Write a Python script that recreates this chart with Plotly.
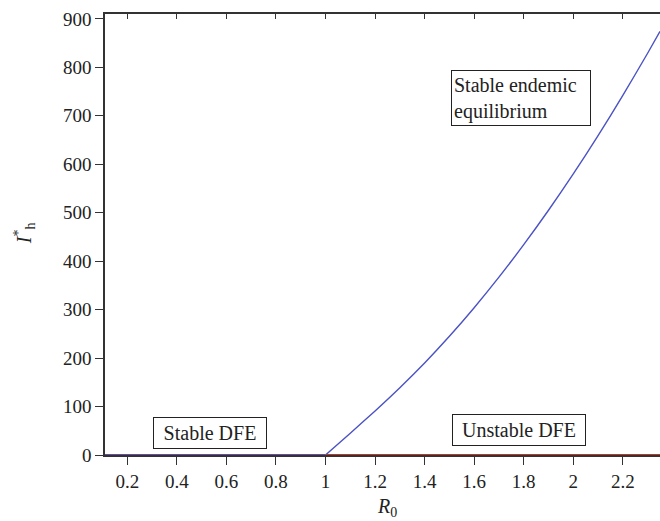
import plotly.graph_objects as go

# Data
r0_dfe = [0.11, 1.0]
i_dfe = [0, 0]
r0_unstable = [1.0, 2.35]
i_unstable = [0, 0]
r0_endemic = [1.0, 1.1, 1.2, 1.3, 1.4, 1.5, 1.6, 1.7, 1.8, 1.9, 2.0, 2.1, 2.2, 2.3, 2.35]
i_endemic = [0, 45, 91, 139, 190, 245, 304, 367, 434, 505, 580, 659, 742, 829, 874]

x_ticks = [0.2, 0.4, 0.6, 0.8, 1.0, 1.2, 1.4, 1.6, 1.8, 2.0, 2.2]
x_tick_labels = ["0.2", "0.4", "0.6", "0.8", "1", "1.2", "1.4", "1.6", "1.8", "2", "2.2"]
y_ticks = [0, 100, 200, 300, 400, 500, 600, 700, 800, 900]

FONT = "Liberation Serif, DejaVu Serif, serif"
AX = "#333333"

fig = go.Figure()
fig.add_trace(go.Scatter(x=r0_endemic, y=i_endemic, mode="lines",
                         line=dict(color="#4a52c4", width=1.4, shape="spline", smoothing=0.6),
                         showlegend=False))
fig.add_trace(go.Scatter(x=r0_unstable, y=i_unstable, mode="lines",
                         line=dict(color="#b8382c", width=2.2), showlegend=False))
fig.add_trace(go.Scatter(x=r0_dfe, y=i_dfe, mode="lines",
                         line=dict(color="#6a4c9c", width=2.2), showlegend=False))

xr = [0.11, 2.35]
fig.update_layout(
    width=660, height=521,
    margin=dict(l=105, r=0, t=14, b=66),
    paper_bgcolor="white", plot_bgcolor="white",
    font=dict(family=FONT, size=19, color="#222222"),
    xaxis=dict(range=xr, tickvals=x_ticks, ticktext=x_tick_labels,
               ticks="outside", ticklen=8, tickwidth=1.3, tickcolor=AX,
               showline=True, linecolor=AX, linewidth=1.5,
               showgrid=False, zeroline=False, tickfont=dict(size=19)),
    xaxis2=dict(range=xr, tickvals=x_ticks, showticklabels=False,
                overlaying="x", side="top", anchor="y",
                ticks="inside", ticklen=5, tickwidth=1.3, tickcolor=AX,
                showline=True, linecolor=AX, linewidth=1.5,
                showgrid=False, zeroline=False),
    yaxis=dict(range=[0, 910], tickvals=y_ticks,
               ticks="outside", ticklen=8, tickwidth=1.3, tickcolor=AX,
               showline=True, linecolor=AX, linewidth=1.5,
               showgrid=False, zeroline=False, tickfont=dict(size=19)),
)
# dummy trace to activate top axis
fig.add_trace(go.Scatter(x=[None], y=[None], xaxis="x2", showlegend=False))

box = dict(bordercolor="#222222", borderwidth=1, bgcolor="white",
           showarrow=False, xref="paper", yref="paper",
           xanchor="center", yanchor="middle",
           font=dict(family=FONT, size=20, color="#222222"))
fig.add_annotation(text="Stable DFE", x=0.1883, y=0.051, width=108, height=26,
                   borderpad=2, **box)
fig.add_annotation(text="Unstable DFE", x=0.7468, y=0.0567, width=128, height=26,
                   borderpad=2, **box)
fig.add_annotation(text="Stable endemic<br>equilibrium", x=0.7495, y=0.8088,
                   width=134, height=50, borderpad=2, align="left", **box)

fig.add_annotation(text="<i>R</i><sub>0</sub>", x=0.5076, y=-0.118,
                   xref="paper", yref="paper", showarrow=False,
                   xanchor="center", yanchor="middle",
                   font=dict(family=FONT, size=20, color="#222222"))
fig.add_annotation(text="<i>I</i><sup>*</sup><sub>h</sub>", x=-0.144, y=0.503,
                   xref="paper", yref="paper", showarrow=False, textangle=-90,
                   xanchor="center", yanchor="middle",
                   font=dict(family=FONT, size=20, color="#222222"))

fig.write_html("out.html", config={"displayModeBar": False},
               post_script="document.body.style.margin='0px';")
